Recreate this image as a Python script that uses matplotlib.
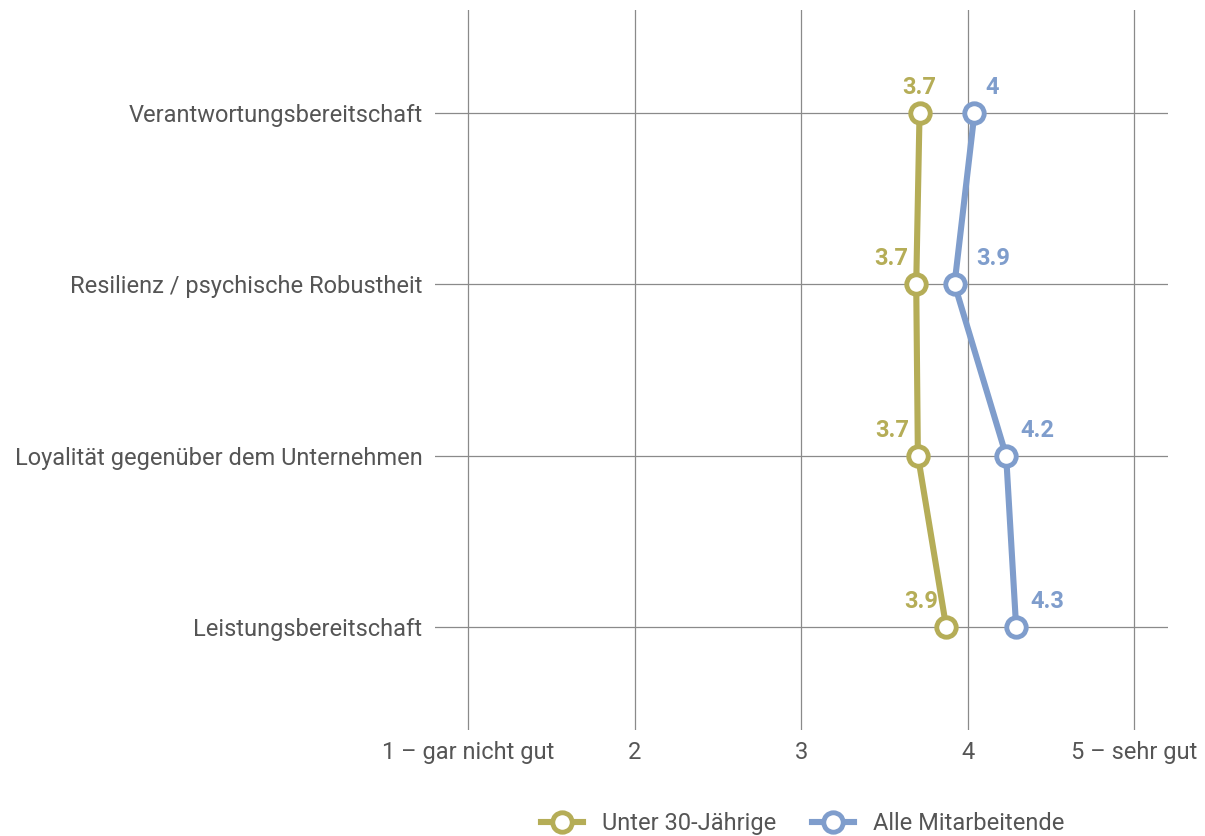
import matplotlib.pyplot as plt
import numpy as np

plt.rcParams['font.family'] = ['Roboto', 'DejaVu Sans']

# Data
categories = ['Verantwortungsbereitschaft', 'Resilienz / psychische Robustheit',
              'Loyalität gegenüber dem Unternehmen', 'Leistungsbereitschaft']
under30 = [3.71, 3.69, 3.70, 3.87]
alle = [4.04, 3.92, 4.23, 4.29]
series_names = ['Unter 30-Jährige', 'Alle Mitarbeitende']
x_ticks = [1, 2, 3, 4, 5]
x_ticklabels = ['1 – gar nicht gut', '2', '3', '4', '5 – sehr gut']

colors = ['#b5ad57', '#7f9dcc']
grid_color = '#8a8a8a'
text_color = '#555555'

fig = plt.figure(figsize=(12.05, 8.36), dpi=100)
ax = fig.add_axes([0.361, 0.127, 0.608, 0.861])

y = np.arange(len(categories))

for xv in x_ticks:
    ax.axvline(xv, color=grid_color, lw=0.9, zorder=1)
for yv in y:
    ax.axhline(yv, color=grid_color, lw=0.9, zorder=1)

# label offsets in points (style only)
offsets = [
    [(0, 10, 'center'), (-6, 10, 'right'), (-6, 10, 'right'), (-6, 10, 'right')],
    [(8, 10, 'left'), (16, 10, 'left'), (10, 10, 'left'), (10, 10, 'left')],
]

for i, (vals, name) in enumerate(zip([under30, alle], series_names)):
    ax.plot(vals, y, color=colors[i], lw=4.4, marker='o', markersize=14,
            markerfacecolor='white', markeredgecolor=colors[i],
            markeredgewidth=3.5, label=name, zorder=3)
    for j, v in enumerate(vals):
        dx, dy, ha = offsets[i][j]
        ax.annotate(f"{round(v, 1):g}", (v, y[j]), xytext=(dx, dy),
                    textcoords='offset points', ha=ha, va='bottom',
                    color=colors[i], fontsize=17, fontweight='bold')

ax.set_xlim(0.8, 5.2)
ax.set_ylim(len(categories) - 0.4, -0.6)
ax.set_xticks(x_ticks)
ax.set_xticklabels(x_ticklabels)
ax.set_yticks(y)
ax.set_yticklabels(categories)
ax.tick_params(axis='both', length=0, labelsize=17, colors=text_color)
ax.tick_params(axis='x', pad=8)
ax.tick_params(axis='y', pad=9)
for s in ax.spines.values():
    s.set_visible(False)

fig.legend(loc='lower center', bbox_to_anchor=(0.666, -0.024), ncol=2,
           frameon=False, fontsize=17, labelcolor=text_color,
           handlelength=1.8, columnspacing=1.5)

fig.savefig('out.png', dpi=100)
